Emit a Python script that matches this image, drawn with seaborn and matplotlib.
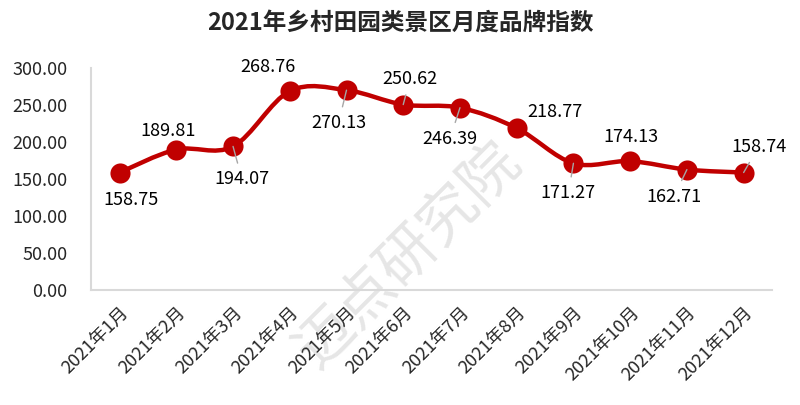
import matplotlib
matplotlib.use("Agg")
import matplotlib.pyplot as plt
from matplotlib.path import Path
from matplotlib.patches import PathPatch
import numpy as np
import pandas as pd
import seaborn as sns

# chart data
months = ["2021年1月", "2021年2月", "2021年3月", "2021年4月", "2021年5月", "2021年6月",
          "2021年7月", "2021年8月", "2021年9月", "2021年10月", "2021年11月", "2021年12月"]
index_values = [158.75, 189.81, 194.07, 268.76, 270.13, 250.62,
                246.39, 218.77, 171.27, 174.13, 162.71, 158.74]
y_ticks = [0, 50, 100, 150, 200, 250, 300]

# label offsets in pixels (dx, dy up) and whether a leader line is drawn
label_offsets = [(11, -27), (-8, 19), (9, -33), (-22, 24), (-8, -33), (7, 26),
                 (-10, -31), (38, 16), (-5, -30), (1, 24), (-13, -27), (15, 26)]
leader = [False, False, True, False, True, True, True, False, True, False, True, True]

RED = "#c00000"
GRID = "#d9d9d9"

sns.set_style("white")
plt.rcParams["font.family"] = ["Noto Sans CJK SC", "DejaVu Sans"]

df = pd.DataFrame({"month": months, "value": index_values})
df["pos"] = np.arange(len(df))

fig = plt.figure(figsize=(8, 4.05), dpi=100)
ax = fig.add_axes([0.114, 0.284, 0.851, 0.548])
ax.patch.set_alpha(0)

# watermark
fig.text(0.51, 0.37, "迈点研究院", fontsize=42, color="#e6e6e6", rotation=45,
         fontweight="light", ha="center", va="center", zorder=-1)


def smooth_path(xs, ys):
    """Excel-like smoothed line: bezier segments through every point."""
    pts = np.column_stack([xs, ys]).astype(float)
    ext = np.vstack([pts[0], pts, pts[-1]])
    verts = [pts[0]]
    codes = [Path.MOVETO]
    for i in range(len(pts) - 1):
        p0, p1, p2, p3 = ext[i], ext[i + 1], ext[i + 2], ext[i + 3]
        c1 = p1 + (p2 - p0) / 6.0
        c2 = p2 - (p3 - p1) / 6.0
        verts += [c1, c2, p2]
        codes += [Path.CURVE4] * 3
    return Path(verts, codes)


ax.add_patch(PathPatch(smooth_path(df["pos"], df["value"]), fill=False,
                       edgecolor=RED, lw=3.2, zorder=2, capstyle="round"))
sns.scatterplot(data=df, x="pos", y="value", ax=ax, color=RED, s=210,
                edgecolor=RED, linewidth=0, zorder=3, legend=False)

for i, row in df.iterrows():
    dx, dy = label_offsets[i]
    props = None
    if leader[i]:
        props = dict(arrowstyle="-", color="#a6a6a6", lw=1, shrinkA=3, shrinkB=0)
    ax.annotate(f"{row['value']:.2f}", xy=(row["pos"], row["value"]),
                xytext=(dx, dy), textcoords="offset pixels", ha="center", va="center",
                fontsize=13, color="#000000", arrowprops=props, zorder=4)

ax.set_xlim(-0.5, len(months) - 0.5)
ax.set_ylim(0, 300)
ax.set_yticks(y_ticks)
ax.set_yticklabels([f"{v:.2f}" for v in y_ticks], fontsize=13)
ax.set_xticks(df["pos"])
ax.set_xticklabels(months, fontsize=13, rotation=45, ha="right", rotation_mode="anchor")
ax.set_xticks(np.arange(-0.5, len(months)), minor=True)
ax.tick_params(axis="x", which="major", length=0, pad=10)
ax.tick_params(axis="x", which="minor", length=5, direction="in", color=GRID, width=1.2)
ax.tick_params(axis="y", length=4, direction="out", color=GRID, width=1.2, pad=13)
ax.set_xlabel("")
ax.set_ylabel("")

for side in ["top", "right"]:
    ax.spines[side].set_visible(False)
for side in ["left", "bottom"]:
    ax.spines[side].set_color(GRID)
    ax.spines[side].set_linewidth(1.5)

fig.suptitle("2021年乡村田园类景区月度品牌指数", x=0.5, y=0.945, fontsize=17,
             fontweight="bold", va="center")

fig.savefig("out.png", dpi=100)
